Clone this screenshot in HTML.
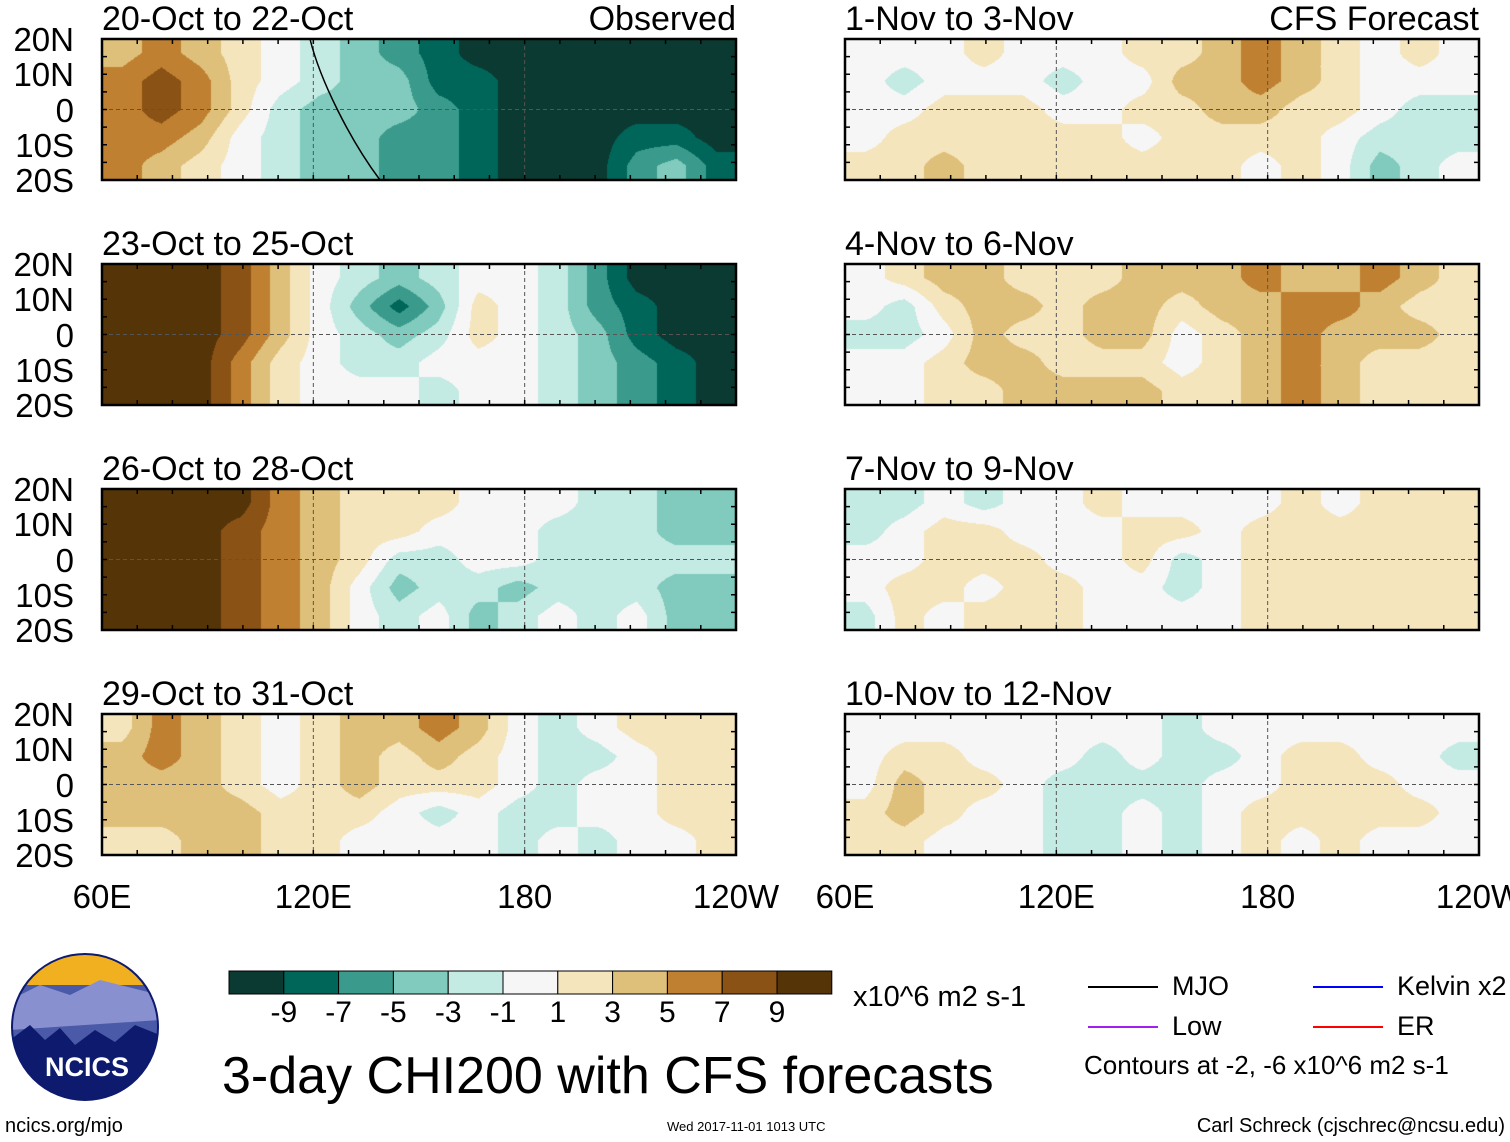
<!DOCTYPE html>
<html><head><meta charset="utf-8"><style>
body{margin:0;background:#fff;width:1510px;height:1142px;overflow:hidden;position:relative;font-family:"Liberation Sans",sans-serif;}
.t{position:absolute;white-space:nowrap;color:#000;line-height:1;}
canvas{position:absolute;}
</style></head><body>
<svg id="ov" width="1510" height="1142" style="position:absolute;left:0;top:0"></svg>
<div id="txt"></div>
<script>
const colors=['#0a3a31','#00665a','#3a9a8c','#80cbbd','#c3eae3','#f6f6f6','#f5e5bd','#dfc07a','#bf8131','#8b5215','#553408'];
const cbLabels=['-9','-7','-5','-3','-1','1','3','5','7','9'];
const titles=['20-Oct to 22-Oct','23-Oct to 25-Oct','26-Oct to 28-Oct','29-Oct to 31-Oct','1-Nov to 3-Nov','4-Nov to 6-Nov','7-Nov to 9-Nov','10-Nov to 12-Nov'];
const latLabels=['20N','10N','0','10S','20S'];
const lonLabels=['60E','120E','180','120W'];
const p1=[[4,6,4,2,0,-2,-4,-6,-8,-10,-10,-10,-10,-10,-10,-10],[6,8,6,2,0,-2,-4,-4,-8,-8,-10,-10,-10,-10,-10,-10],[6,8,6,2,-2,-4,-4,-4,-6,-8,-10,-10,-10,-10,-10,-10],[6,6,4,0,-2,-4,-4,-6,-6,-8,-10,-10,-10,-8,-8,-10],[6,4,2,0,-2,-4,-4,-6,-6,-8,-10,-10,-10,-6,-4,-8]];
const p2=[[10,10,10,8,4,0,-2,-4,-2,0,0,-2,-6,-10,-10,-10],[10,10,10,8,4,0,-4,-8,-4,2,0,-2,-6,-8,-10,-10],[10,10,10,8,4,0,-2,-4,-2,2,0,-2,-4,-8,-10,-10],[10,10,10,6,2,0,-2,-2,0,0,0,-2,-4,-6,-8,-10],[10,10,10,6,2,0,0,0,-2,0,0,-2,-4,-6,-8,-10]];
const p3=[[10,10,10,10,6,4,2,2,2,0,0,0,-2,-2,-4,-4],[10,10,10,8,6,4,2,2,0,0,0,-2,-2,-2,-4,-4],[10,10,10,8,6,4,2,-2,-2,0,0,-2,-2,-2,-2,-2],[10,10,10,8,6,4,0,-4,-2,-2,-4,-2,-2,-2,-4,-4],[10,10,10,8,6,4,0,-2,0,-4,-2,0,-2,0,-4,-4]];
const p4=[[2,6,4,2,0,2,4,4,6,4,0,-2,0,2,2,2],[4,6,4,2,0,2,4,2,4,2,0,-2,-2,0,2,2],[4,4,4,2,0,2,4,2,2,2,0,-2,0,0,2,2],[4,4,4,4,2,2,2,0,-2,0,-2,-2,0,0,2,2],[2,2,4,4,2,2,0,0,0,0,-2,0,-2,0,0,2]];
const p5=[[0,0,0,2,0,0,0,2,2,4,6,4,2,0,2,0],[0,-2,0,0,0,-2,0,0,4,4,6,4,2,0,0,0],[0,0,2,2,2,0,0,2,2,4,4,2,2,0,-2,-2],[0,2,2,2,2,2,2,0,2,2,2,2,0,-2,-2,-2],[2,2,4,2,2,2,2,2,2,2,0,2,0,-4,-2,0]];
const p6=[[0,2,4,4,2,2,2,4,4,4,6,4,4,6,4,2],[0,-2,2,4,4,2,4,4,2,4,4,6,6,4,2,2],[-2,-2,0,4,2,2,4,4,0,2,4,6,4,4,4,2],[0,0,2,4,4,2,2,2,0,2,4,6,4,2,2,2],[0,0,2,2,4,4,4,4,2,2,4,6,4,2,2,2]];
const p7=[[-2,-2,0,-2,0,0,2,0,0,0,0,2,0,2,2,2],[-2,0,2,2,0,0,0,2,2,0,2,2,2,2,2,2],[0,0,2,2,2,0,0,2,-2,0,2,2,2,2,2,2],[0,2,2,0,2,2,0,0,-2,0,2,2,2,2,2,2],[-2,2,0,2,2,2,0,0,0,0,2,2,2,2,2,2]];
const p8=[[0,0,0,0,0,0,0,0,-2,0,0,0,0,0,0,0],[0,2,2,0,0,0,-2,0,-2,-2,0,2,2,0,0,-2],[0,4,2,2,0,-2,-2,-2,-2,0,0,2,2,2,0,0],[2,4,2,0,0,-2,-2,0,-2,0,2,2,2,2,2,0],[2,2,0,0,0,-2,-2,0,-2,0,2,0,2,0,0,0]];
const fields=[p1,p2,p3,p4,p5,p6,p7,p8];

const W=634,H=141,lefts=[102,845],tops=[39,264,489,714];
const NS='http://www.w3.org/2000/svg';
const ov=document.getElementById('ov'),txt=document.getElementById('txt');
function colIdx(v){let i=0;const b=[-9,-7,-5,-3,-1,1,3,5,7,9];while(i<10&&v>=b[i])i++;return i;}
function lonX(l,x0){return x0+(l-60)/180*W;}
function latY(la,y0){return y0+(20-la)/40*H;}
function sv(tag,a){const e=document.createElementNS(NS,tag);for(const k in a)e.setAttribute(k,a[k]);ov.appendChild(e);return e;}
function tx(s,x,y,size,anchor){const d=document.createElement('div');d.className='t';d.textContent=s;d.style.fontSize=size+'px';d.style.top=y+'px';
 if(anchor==='r'){d.style.right=(1510-x)+'px';}else if(anchor==='c'){d.style.left=x+'px';d.style.transform='translateX(-50%)';}else d.style.left=x+'px';txt.appendChild(d);return d;}

fields.forEach((f,k)=>{
 const x0=lefts[Math.floor(k/4)],y0=tops[k%4];
 const c=document.createElement('canvas');c.width=W;c.height=H;c.style.left=x0+'px';c.style.top=y0+'px';
 
 
 document.body.insertBefore(c,ov);
 const g=c.getContext('2d');const nr=f.length,nc=f[0].length;
 for(let py=0;py<H;py++)for(let px=0;px<W;px++){
  let fx=(px+0.5)/W*nc-0.5,fy=(py+0.5)/H*nr-0.5;
  fx=Math.max(0,Math.min(nc-1.001,fx));fy=Math.max(0,Math.min(nr-1.001,fy));
  const i=Math.floor(fx),j=Math.floor(fy),a=fx-i,b=fy-j;
  const v=f[j][i]*(1-a)*(1-b)+f[j][i+1]*a*(1-b)+f[j+1][i]*(1-a)*b+f[j+1][i+1]*a*b;
  g.fillStyle=colors[colIdx(v)];g.fillRect(px,py,1,1);
 }
 const eq=sv('line',{x1:x0,x2:x0+W,y1:latY(0,y0),y2:latY(0,y0),stroke:'#555','stroke-width':1,'stroke-dasharray':'4,3'});
 
 
 [120,180].forEach(l=>{const v=sv('line',{x1:lonX(l,x0),x2:lonX(l,x0),y1:y0,y2:y0+H,stroke:'#555','stroke-width':1,'stroke-dasharray':'4,3'});
  
  });
 for(let l=60;l<=240;l+=10){const x=lonX(l,x0);sv('line',{x1:x,x2:x,y1:y0,y2:y0+5,stroke:'#000','stroke-width':1.5});sv('line',{x1:x,x2:x,y1:y0+H,y2:y0+H-5,stroke:'#000','stroke-width':1.5});}
 for(let la=-20;la<=20;la+=5){const y=latY(la,y0);sv('line',{x1:x0,x2:x0+5,y1:y,y2:y,stroke:'#000','stroke-width':1.5});sv('line',{x1:x0+W,x2:x0+W-5,y1:y,y2:y,stroke:'#000','stroke-width':1.5});}
 const fr=sv('rect',{x:x0,y:y0,width:W,height:H,fill:'none',stroke:'#000','stroke-width':2.5});
 
 
 const t=tx(titles[k],x0,y0-37,34);
 
 
 if(x0===102){latLabels.forEach((s,i)=>{const e=tx(s,74,y0-16+i*35.25,33,'r');
  
  });}
 if(k%4===3){lonLabels.forEach((s,i)=>{const e=tx(s,x0+i*W/3,880,33,'c');
  
  });}
});
// a few representative contour lines (MJO) in observed panel
const c1=sv('path',{d:'M310 39 C320 80 350 140 380 180',fill:'none',stroke:'#000','stroke-width':1.5});


tx('Observed',736,2,34,'r');
tx('CFS Forecast',1479,2,34,'r');
colors.forEach((c,i)=>{const r=sv('rect',{x:229+i*54.8,y:971,width:54.8,height:23,fill:c,stroke:'#000','stroke-width':1});
 
 });
cbLabels.forEach((s,i)=>{const e=tx(s,229+(i+1)*54.8,998,30,'c');
 
 });
tx('x10^6 m2 s-1',853,983,29);
tx('3-day CHI200 with CFS forecasts',222,1050,52);
[['MJO','#000',1088,987],['Low','#a020f0',1088,1027],['Kelvin x2','#0000ff',1313,987],['ER','#ff0000',1313,1027]].forEach(a=>{
 const l=sv('line',{x1:a[2],x2:a[2]+70,y1:a[3],y2:a[3],stroke:a[1],'stroke-width':2});
 
 
 const e=tx(a[0],a[2]+84,a[3]-14,27);
 
 });
tx('Contours at -2, -6 x10^6 m2 s-1',1084,1052,26);
tx('ncics.org/mjo',5,1116,20);
tx('Wed 2017-11-01 1013 UTC',667,1120,13);
tx('Carl Schreck (cjschrec@ncsu.edu)',1505,1116,20,'r');
const lg=document.createElementNS(NS,'g');
lg.innerHTML='<clipPath id="cl"><circle cx="85" cy="1027" r="73"/></clipPath><g clip-path="url(#cl)"><rect x="10" y="950" width="150" height="60" fill="#f0b020"/><rect x="10" y="985" width="150" height="70" fill="#4a5aa8"/><path d="M10 1000 L40 985 L70 995 L100 980 L160 995 L160 1020 L10 1030Z" fill="#8890d0"/><path d="M10 1040 L30 1025 L45 1040 L60 1028 L75 1045 L95 1030 L115 1042 L135 1025 L160 1035 L160 1110 L10 1110Z" fill="#0d1a6e"/></g><circle cx="85" cy="1027" r="73" fill="none" stroke="#0d1a6e" stroke-width="2"/><text x="87" y="1076" font-size="27" font-weight="bold" fill="#fff" text-anchor="middle" font-family="Liberation Sans">NCICS</text>';
ov.appendChild(lg);
</script>
</body></html>
